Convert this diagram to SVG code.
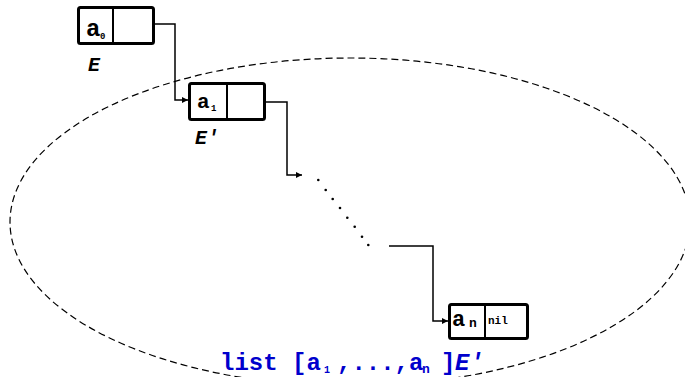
<svg xmlns="http://www.w3.org/2000/svg" width="685" height="377" viewBox="0 0 685 377">
<style>
.box{fill:#fff;stroke:#000;stroke-width:3}
.div{stroke:#000;stroke-width:2}
.mono{font-family:"Liberation Mono","Courier New",monospace;font-weight:bold;fill:#000}
.it{font-style:italic}
.wire{fill:none;stroke:#000;stroke-width:1.5}
.blue{fill:#0000cc}
</style>
<defs>
<marker id="arr" viewBox="0 0 10 10" refX="10" refY="5" markerWidth="8" markerHeight="6" markerUnits="userSpaceOnUse" orient="auto">
<path d="M0,0 L10,5 L0,10 z" fill="#000"/>
</marker>
</defs>
<g id="region">
<ellipse cx="350" cy="222" rx="340" ry="164" fill="none" stroke="#000" stroke-width="1.2" stroke-dasharray="7,4"/>
</g>
<g id="connectors">
<path class="wire" d="M132,24 H175 V100 H188" marker-end="url(#arr)"/>
<path class="wire" d="M243,102 H287 V175 H302" marker-end="url(#arr)"/>
<g fill="#000">
<circle cx="318.3" cy="180" r="1.3"/>
<circle cx="325.7" cy="190" r="1.3"/>
<circle cx="332.7" cy="199" r="1.3"/>
<circle cx="340" cy="208" r="1.3"/>
<circle cx="347.3" cy="217.7" r="1.3"/>
<circle cx="354.7" cy="226.7" r="1.3"/>
<circle cx="362" cy="236.7" r="1.3"/>
<circle cx="368.3" cy="245" r="1.3"/>
</g>
<path class="wire" d="M389,246 H433 V321 H448" marker-end="url(#arr)"/>
</g>
<g id="node-a0">
<rect class="box" x="78.5" y="7.5" width="75" height="36" rx="2"/>
<line class="div" x1="113" y1="7.5" x2="113" y2="43.5"/>
<text class="mono" x="86" y="36" font-size="24">a</text>
<text class="mono" x="100" y="39" font-size="9">0</text>
<text class="mono it" x="88" y="71" font-size="20">E</text>
</g>
<g id="node-a1">
<rect class="box" x="189.5" y="83.5" width="75" height="36" rx="2"/>
<line class="div" x1="227" y1="83.5" x2="227" y2="119.5"/>
<text class="mono" x="197" y="108" font-size="21">a</text>
<text class="mono" x="211" y="111" font-size="9">1</text>
<text class="mono it" x="195" y="144" font-size="20">E'</text>
</g>
<g id="node-an">
<rect class="box" x="449.5" y="304.5" width="78" height="34" rx="2"/>
<line class="div" x1="485" y1="304.5" x2="485" y2="338.5"/>
<text class="mono" x="452" y="326" font-size="22">a</text>
<text class="mono" x="469" y="327" font-size="13">n</text>
<text class="mono" x="488" y="324" font-size="11">nil</text>
</g>
<g id="label">
<text class="mono blue" x="220" y="370" font-size="24">list [a</text>
<text class="mono blue" x="324" y="373" font-size="10">1</text>
<text class="mono blue" x="337" y="370" font-size="24">,...,a</text>
<text class="mono blue" x="422" y="373" font-size="13">n</text>
<text class="mono blue" x="441" y="370" font-size="24">]</text>
<text class="mono blue it" x="455" y="370" font-size="24">E'</text>
</g>
</svg>
